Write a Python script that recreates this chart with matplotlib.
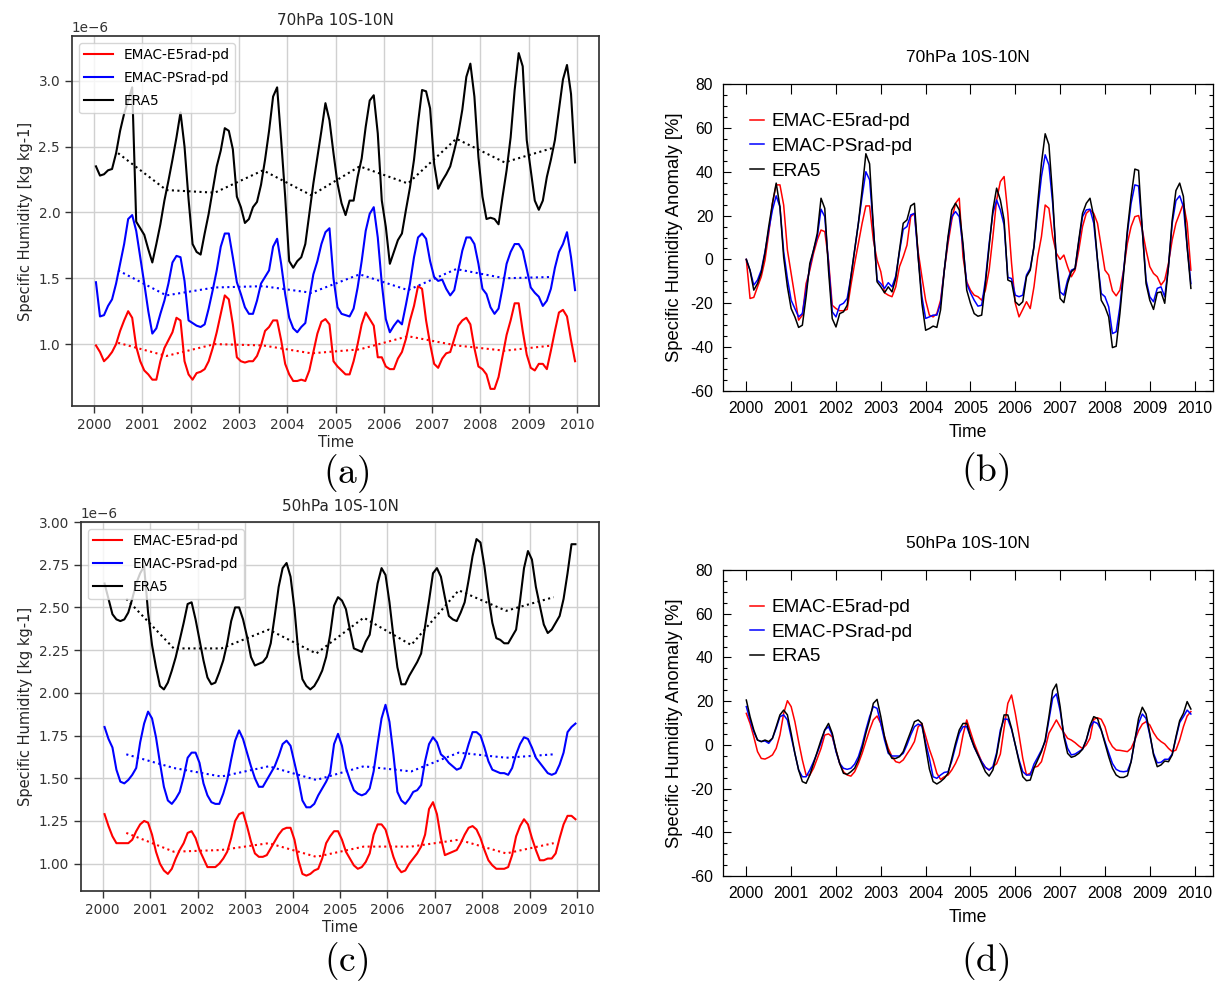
import matplotlib
matplotlib.use("Agg")
import matplotlib.pyplot as plt
import numpy as np
from matplotlib.ticker import MultipleLocator, FuncFormatter

plt.rcParams['mathtext.fontset'] = 'cm'

# ---------------- data ----------------
years = list(range(2000, 2011))
labels = ['EMAC-E5rad-pd', 'EMAC-PSrad-pd', 'ERA5']

# 70hPa specific humidity [1e-6 kg/kg], monthly 2000-2009
q70_e5 = [0.99, 0.94, 0.87, 0.90, 0.94, 1.00, 1.10, 1.18, 1.25, 1.20, 0.98, 0.87,
          0.80, 0.77, 0.73, 0.73, 0.87, 0.97, 1.03, 1.09, 1.20, 1.18, 0.87, 0.77,
          0.73, 0.78, 0.79, 0.81, 0.87, 0.97, 1.09, 1.23, 1.37, 1.34, 1.15, 0.90,
          0.87, 0.86, 0.87, 0.87, 0.91, 0.99, 1.10, 1.13, 1.18, 1.18, 1.03, 0.85,
          0.77, 0.72, 0.72, 0.73, 0.72, 0.80, 0.94, 1.08, 1.17, 1.19, 1.15, 0.87,
          0.83, 0.80, 0.77, 0.77, 0.87, 1.00, 1.15, 1.24, 1.19, 1.14, 0.90, 0.90,
          0.83, 0.81, 0.81, 0.89, 0.94, 1.04, 1.18, 1.29, 1.44, 1.42, 1.18, 1.00,
          0.85, 0.82, 0.89, 0.93, 0.94, 1.04, 1.14, 1.18, 1.20, 1.15, 0.97, 0.83,
          0.81, 0.77, 0.66, 0.66, 0.75, 0.91, 1.07, 1.18, 1.31, 1.31, 1.10, 0.92,
          0.82, 0.80, 0.85, 0.85, 0.81, 0.95, 1.10, 1.24, 1.26, 1.21, 1.03, 0.87]
q70_ps = [1.47, 1.21, 1.22, 1.29, 1.34, 1.46, 1.61, 1.76, 1.95, 1.98, 1.86, 1.66,
          1.46, 1.25, 1.08, 1.12, 1.23, 1.33, 1.46, 1.62, 1.67, 1.66, 1.48, 1.18,
          1.16, 1.14, 1.13, 1.15, 1.27, 1.41, 1.56, 1.74, 1.84, 1.84, 1.66, 1.47,
          1.38, 1.28, 1.23, 1.23, 1.33, 1.46, 1.51, 1.56, 1.74, 1.80, 1.61, 1.38,
          1.20, 1.12, 1.09, 1.13, 1.16, 1.35, 1.53, 1.63, 1.76, 1.85, 1.88, 1.50,
          1.28, 1.23, 1.22, 1.21, 1.27, 1.43, 1.63, 1.86, 1.99, 2.04, 1.81, 1.46,
          1.19, 1.09, 1.14, 1.18, 1.15, 1.30, 1.46, 1.66, 1.81, 1.84, 1.80, 1.63,
          1.51, 1.48, 1.49, 1.42, 1.37, 1.41, 1.56, 1.71, 1.81, 1.81, 1.76, 1.61,
          1.42, 1.38, 1.28, 1.23, 1.27, 1.43, 1.61, 1.70, 1.76, 1.76, 1.71, 1.57,
          1.43, 1.39, 1.36, 1.29, 1.33, 1.42, 1.58, 1.70, 1.76, 1.85, 1.66, 1.41]
q70_era5 = [2.35, 2.28, 2.29, 2.32, 2.33, 2.45, 2.62, 2.75, 2.85, 2.95, 1.93, 1.88,
            1.83, 1.72, 1.62, 1.76, 1.91, 2.09, 2.24, 2.40, 2.57, 2.76, 2.50, 2.10,
            1.76, 1.70, 1.68, 1.84, 1.99, 2.17, 2.35, 2.47, 2.64, 2.62, 2.48, 2.12,
            2.04, 1.92, 1.95, 2.04, 2.08, 2.21, 2.40, 2.62, 2.88, 2.95, 2.55, 2.12,
            1.63, 1.58, 1.63, 1.66, 1.76, 1.99, 2.22, 2.42, 2.62, 2.83, 2.70, 2.45,
            2.22, 2.07, 1.98, 2.09, 2.09, 2.27, 2.41, 2.65, 2.85, 2.89, 2.60, 2.09,
            1.89, 1.61, 1.70, 1.79, 1.84, 2.02, 2.19, 2.40, 2.68, 2.93, 2.92, 2.79,
            2.37, 2.18, 2.24, 2.29, 2.35, 2.47, 2.60, 2.78, 3.03, 3.13, 2.88, 2.42,
            2.12, 1.95, 1.96, 1.95, 1.91, 2.12, 2.32, 2.57, 2.93, 3.21, 3.11, 2.55,
            2.32, 2.09, 2.02, 2.09, 2.27, 2.40, 2.55, 2.78, 3.01, 3.12, 2.90, 2.38]
# annual means (plotted mid-year)
q70_e5_yr = [1.01, 0.91, 1.00, 0.99, 0.93, 0.96, 1.06, 0.99, 0.95, 0.99]
q70_ps_yr = [1.56, 1.37, 1.43, 1.44, 1.39, 1.53, 1.41, 1.57, 1.50, 1.51]
q70_era5_yr = [2.45, 2.17, 2.15, 2.32, 2.13, 2.35, 2.22, 2.56, 2.38, 2.49]

# 50hPa specific humidity [1e-6 kg/kg]
q50_e5 = [1.29, 1.22, 1.16, 1.12, 1.12, 1.12, 1.12, 1.14, 1.19, 1.23, 1.25, 1.24,
          1.17, 1.07, 1.00, 0.96, 0.94, 0.97, 1.03, 1.08, 1.12, 1.18, 1.19, 1.15,
          1.08, 1.03, 0.98, 0.98, 0.98, 1.00, 1.03, 1.07, 1.15, 1.25, 1.29, 1.30,
          1.22, 1.13, 1.06, 1.04, 1.04, 1.05, 1.09, 1.13, 1.17, 1.20, 1.21, 1.21,
          1.14, 1.02, 0.94, 0.93, 0.94, 0.96, 0.97, 1.03, 1.12, 1.16, 1.19, 1.19,
          1.14, 1.07, 1.03, 0.99, 0.97, 0.98, 1.01, 1.06, 1.17, 1.23, 1.23, 1.20,
          1.12, 1.04, 0.98, 0.95, 0.96, 1.00, 1.03, 1.06, 1.10, 1.17, 1.32, 1.36,
          1.29, 1.15, 1.05, 1.06, 1.07, 1.08, 1.12, 1.17, 1.21, 1.22, 1.20, 1.15,
          1.08, 1.02, 0.99, 0.97, 0.97, 0.97, 0.98, 1.05, 1.16, 1.22, 1.26, 1.23,
          1.15, 1.08, 1.02, 1.02, 1.03, 1.03, 1.06, 1.15, 1.23, 1.28, 1.28, 1.26]
q50_ps = [1.80, 1.73, 1.68, 1.55, 1.48, 1.47, 1.49, 1.52, 1.56, 1.71, 1.82, 1.89,
          1.85, 1.74, 1.59, 1.45, 1.37, 1.35, 1.38, 1.42, 1.51, 1.62, 1.65, 1.65,
          1.59, 1.47, 1.40, 1.36, 1.35, 1.35, 1.41, 1.49, 1.61, 1.72, 1.78, 1.73,
          1.65, 1.57, 1.50, 1.45, 1.45, 1.49, 1.53, 1.57, 1.63, 1.70, 1.72, 1.69,
          1.59, 1.49, 1.37, 1.33, 1.33, 1.35, 1.40, 1.44, 1.48, 1.53, 1.70, 1.76,
          1.69, 1.56, 1.49, 1.43, 1.41, 1.40, 1.41, 1.44, 1.54, 1.70, 1.85, 1.93,
          1.83, 1.64, 1.42, 1.37, 1.35, 1.38, 1.42, 1.43, 1.46, 1.60, 1.70, 1.74,
          1.71, 1.64, 1.62, 1.59, 1.57, 1.55, 1.56, 1.62, 1.70, 1.77, 1.77, 1.75,
          1.68, 1.60, 1.55, 1.54, 1.53, 1.53, 1.52, 1.56, 1.64, 1.70, 1.74, 1.73,
          1.68, 1.62, 1.59, 1.56, 1.53, 1.52, 1.53, 1.58, 1.65, 1.77, 1.80, 1.82]
q50_era5 = [2.64, 2.55, 2.46, 2.43, 2.42, 2.43, 2.47, 2.55, 2.64, 2.70, 2.74, 2.47,
            2.28, 2.15, 2.04, 2.02, 2.06, 2.13, 2.21, 2.31, 2.41, 2.52, 2.53, 2.43,
            2.31, 2.19, 2.09, 2.05, 2.06, 2.12, 2.19, 2.29, 2.42, 2.50, 2.50, 2.43,
            2.33, 2.21, 2.16, 2.17, 2.18, 2.21, 2.29, 2.45, 2.62, 2.73, 2.76, 2.68,
            2.49, 2.23, 2.08, 2.04, 2.02, 2.04, 2.08, 2.13, 2.21, 2.34, 2.51, 2.56,
            2.54, 2.49, 2.37, 2.26, 2.25, 2.24, 2.30, 2.34, 2.49, 2.64, 2.73, 2.69,
            2.53, 2.33, 2.15, 2.05, 2.05, 2.10, 2.14, 2.18, 2.23, 2.39, 2.54, 2.70,
            2.73, 2.68, 2.56, 2.45, 2.43, 2.42, 2.47, 2.53, 2.66, 2.80, 2.90, 2.88,
            2.74, 2.56, 2.41, 2.32, 2.31, 2.29, 2.29, 2.33, 2.37, 2.54, 2.73, 2.83,
            2.78, 2.62, 2.51, 2.40, 2.35, 2.37, 2.41, 2.45, 2.55, 2.70, 2.87, 2.87]
q50_e5_yr = [1.18, 1.07, 1.08, 1.12, 1.04, 1.10, 1.10, 1.14, 1.06, 1.12]
q50_ps_yr = [1.64, 1.56, 1.51, 1.57, 1.49, 1.57, 1.54, 1.65, 1.62, 1.64]
q50_era5_yr = [2.55, 2.26, 2.26, 2.37, 2.23, 2.44, 2.28, 2.60, 2.48, 2.56]

# anomalies [%]
a70_e5 = [0, -17.8, -17.3, -12.5, -7.9, -0.3, 11.9, 25.6, 34, 34, 24.8, 4.3,
          -6.4, -17, -27.7, -25.4, -11, -4.9, 2.8, 8.9, 13.4, 12.7, -0.3, -20.9,
          -22.4, -23.4, -23.4, -22.8, -11.7, -1.8, 7.3, 16.5, 24.4, 24.4, 8.9, -0.3,
          -5.6, -15.2, -16.3, -17, -12.5, -3.3, 1.2, 6.5, 19.5, 21, 3.5, -7.9,
          -18.6, -25.4, -26.2, -24.7, -18.6, -4.9, 7.3, 18, 25.6, 27.9, 1.2, -10.2,
          -14, -16.3, -17, -18.6, -14, -4.9, 10.4, 27.1, 35.5, 37.8, 21, -1.8,
          -20, -26.2, -22.8, -19.3, -22.4, -12.5, 1.2, 10.4, 24.8, 23.3, 10.4, 2.8,
          0, 2, -3.3, -7.9, -4.9, 4.3, 15, 21, 22.6, 21, 16.5, 5.8,
          -4.9, -7.1, -14.3, -16.6, -14, -4.9, 7.3, 15, 19.5, 20, 13.4, 4.3,
          -3.3, -6.4, -7.9, -11.7, -9.4, -1.8, 8.9, 16.5, 21, 25.6, 16.5, -4.9]
a70_ps = [0, -5, -11.7, -9.4, -4.9, 3.5, 13.4, 22.6, 29, 24, 3.5, -8.7,
          -18.6, -22.4, -26.2, -24.7, -14, -3.3, 4.3, 10.4, 22.9, 19.5, -1.8, -23.9,
          -26.2, -20.9, -20, -17.8, -7.9, 4.3, 16.5, 28.7, 40, 36.3, 15, -9.4,
          -11, -13.2, -10.6, -12.5, -7.6, 3.5, 13.7, 15, 20.3, 21, 1.2, -17,
          -26.9, -26.2, -25.4, -25.4, -20, -4.9, 9.6, 19.5, 21.8, 19.5, 5.8, -11,
          -15.2, -18.6, -21.3, -20.9, -9.4, 7.3, 21, 27.1, 22.6, 15.7, -8.2, -8.7,
          -16.3, -17, -16.3, -7.1, -4.1, 5.8, 22.6, 37.8, 47.7, 43.1, 25.6, 0.5,
          -14.8, -16.3, -9.4, -4.9, -4.1, 8.1, 19.5, 22.6, 22.9, 16.5, -0.3, -15.5,
          -17, -21.6, -33.8, -33, -21.6, -4.9, 11.9, 25.6, 34, 33.5, 13.4, -9.4,
          -17, -19.3, -13.2, -12.5, -17, -3.3, 16.5, 26.8, 29, 24.1, 5.8, -11]
a70_era5 = [0, -5, -14, -11, -6, 3, 15, 25.6, 34.8, 24, 1, -12.5,
            -22.4, -26.2, -31, -30, -17, -1.8, 4.3, 11.9, 27.9, 23.3, -4.9, -27,
            -30.8, -24.7, -23.9, -20.9, -7.9, 4.3, 16.5, 31.7, 48.2, 43.6, 15, -10.2,
            -12.5, -15.2, -12.5, -14.8, -8.7, 4.3, 16.5, 18, 24.4, 25.6, 1.2, -20,
            -32.3, -31.5, -30.4, -31, -23, -4.9, 10.4, 22.6, 25.6, 22.6, 7.3, -14,
            -20, -24.7, -25.9, -25.4, -11, 5.8, 22.6, 32.5, 27.1, 18, -9.4, -10.2,
            -19.3, -20.9, -19.3, -7.9, -4.9, 5.8, 25.6, 43.9, 57.3, 52.3, 28.7, -1,
            -17.8, -19.7, -11, -5.6, -4.1, 8.9, 21.0, 25.6, 27.9, 19.5, -0.3, -18.6,
            -21.6, -26.2, -40.2, -39.6, -24.7, -6.4, 13.4, 28.7, 41.2, 40.6, 13.4, -11,
            -18.6, -22.8, -15.2, -14.8, -20, -3.3, 18, 31.4, 34.8, 28.7, 5.8, -13.2]

a50_e5 = [14.4, 9.8, 3.7, -3.1, -6.2, -6.5, -5.7, -4.6, -1.6, 4.5, 14.4, 20.2,
          17.5, 10.6, 1.5, -6.9, -13.8, -13.8, -10.7, -6.2, -1.6, 4.5, 5.0, 3.7,
          -2.4, -8.5, -12.3, -13.8, -14.3, -12.3, -8.5, -3.9, 1.5, 6.8, 11.4, 13.2,
          9.8, 3.7, -1.6, -5.4, -7.7, -8.2, -6.9, -4.2, -1.6, 1.5, 8.3, 9.8,
          4, -2, -6.9, -13, -15.8, -14.6, -13.8, -11.5, -8.5, -4.6, 4.5, 11.4,
          6.0, 0.7, -3.6, -7.7, -10.3, -11.5, -10, -8.6, -4.2, 7.6, 19, 22.8,
          14.4, 4.5, -6.2, -13.8, -13, -10.3, -9.8, -7.7, -1.6, 5.3, 8.3, 11.4,
          8.3, 5.6, 3.0, 2.2, 1.0, -0.5, -1.7, 0, 3.0, 11.7, 12.4, 11.7,
          8.3, 2.2, -0.8, -2.4, -2.5, -2.8, -3.1, -1.6, 2.2, 6.5, 9.5, 10.6,
          9.1, 5.6, 3.0, 1.5, 0.4, -1.6, -3.1, -2.4, 2.2, 8.3, 13.2, 15.2]
a50_ps = [17.5, 11.4, 6.0, 2.2, 1.5, 1.8, 0.7, 3, 7.6, 12.9, 13.7, 11.4,
          3.7, -3.9, -11.5, -14.6, -14.6, -11.5, -7.7, -3.6, 1.0, 6.8, 8.3, 4.5,
          -3.1, -8.5, -10.7, -11.2, -10.7, -8.8, -5.4, 0, 6.8, 12.9, 17.5, 16.7,
          9.8, 2.2, -3.9, -5.1, -5.1, -5.1, -3.9, 0, 4.5, 8.3, 9.5, 8.6,
          1, -6.2, -14.6, -15.3, -13.8, -12.6, -12.3, -7.4, -0.8, 5.3, 8.3, 8.3,
          3.7, -1.1, -4.6, -7.7, -10.3, -11.5, -10, -3.6, 6.8, 11.8, 11.7, 7.1,
          0, -6.9, -12.3, -13.8, -13.8, -8.8, -5.7, -2.4, 1.5, 11.4, 21.3, 23.3,
          15.6, 4.5, -1.6, -4.6, -4.2, -3.1, -2.0, 2.2, 8.0, 10.6, 9.8, 6.8,
          1.5, -3.6, -8.5, -11.2, -12.1, -12.3, -12.0, -7.7, 2.2, 9.8, 14.1, 12.1,
          4.5, -3.9, -8.2, -8.0, -6.6, -6.6, -4.2, 3.0, 10.2, 12.9, 15.9, 14.1]
a50_era5 = [20.5, 12.9, 6.8, 2.2, 1.5, 2.2, 1.5, 3, 8.3, 13.7, 15.9, 13.7,
            5.3, -3.9, -11.5, -16.8, -17.6, -13.8, -8.5, -3.1, 2.2, 6.8, 9.8, 5.3,
            -2.4, -8.5, -13, -13.5, -12.3, -10.7, -6.9, -1.6, 5.3, 11.4, 19, 20.8,
            12.9, 3.7, -3.1, -6.2, -6.2, -5.4, -3.1, 1.5, 6.0, 10.6, 11.4, 9.8,
            -0.8, -11, -16.8, -17.9, -16.8, -15.3, -13, -6.2, 0.7, 6.8, 9.8, 9.8,
            3.7, -0.8, -4.6, -8.5, -12.3, -14.3, -11.5, -4.6, 5.3, 13.7, 13.7, 7.6,
            0, -7.7, -14.6, -16.4, -16.1, -10.7, -6.9, -3.1, 2.2, 12.9, 24.8, 27.8,
            17.5, 3.7, -3.9, -5.7, -5.1, -3.9, -2.0, 2.2, 8.8, 12.9, 12.1, 6.8,
            0.7, -5.4, -10.7, -13.8, -14.9, -14.9, -14.1, -7.7, 2.2, 12.1, 17.2, 14.1,
            5.3, -4.6, -10, -9.2, -7.4, -7.7, -4.6, 3.7, 11.1, 14.4, 19.8, 16.4]

colors = ['red', 'blue', 'black']

months = np.arange(len(q70_era5))
t_mid = 2000 + (months + 0.5) / 12.0   # python panels: mid-month
t_ncl = 2000 + months / 12.0           # NCL panels
t_yr = np.array(years[:-1]) + 0.5

W, H = 1232, 1000
fig = plt.figure(figsize=(W / 100, H / 100), dpi=100)


def box(l, t, r, b):
    return [l / W, 1 - b / H, (r - l) / W, (b - t) / H]


def python_panel(rect, title, monthly, annual, ylim, ystep):
    ax = fig.add_axes(rect)
    for k in range(3):
        ax.plot(t_mid, np.array(monthly[k]) * 1e-6, color=colors[k], lw=1.5,
                label=labels[k])
    for k in range(3):
        ax.plot(t_yr, np.array(annual[k]) * 1e-6, color=colors[k], lw=1.5, ls=':')
    ax.set_xticks(years)
    ax.set_ylim(ylim[0] * 1e-6, ylim[1] * 1e-6)
    ax.yaxis.set_major_locator(MultipleLocator(ystep * 1e-6))
    ax.grid(True, color='#d0d0d0', lw=1.0)
    ax.set_axisbelow(True)
    for s in ax.spines.values():
        s.set_color('#333333')
        s.set_linewidth(1.25)
    ax.tick_params(labelsize=9.8, colors='#333333', length=5, width=1.0)
    ax.yaxis.get_offset_text().set_fontsize(9.8)
    ax.yaxis.get_offset_text().set_color('#333333')
    ax.set_title(title, fontsize=11, color='#262626', pad=8)
    ax.set_xlabel('Time', fontsize=10.5, color='#262626', labelpad=2)
    ax.set_ylabel('Specific Humidity [kg kg-1]', fontsize=10.5, color='#262626')
    ax.legend(loc='upper left', fontsize=9.8, handlelength=2.1,
              labelspacing=0.65)
    return ax


def ncl_panel(rect, title, series):
    ax = fig.add_axes(rect)
    for k in range(3):
        ax.plot(t_ncl, series[k], color=colors[k], lw=1.1, label=labels[k])
    ax.set_xlim(1999.48, 2010.41)
    ax.set_ylim(-60, 80)
    ax.set_xticks(years)
    ax.yaxis.set_major_locator(MultipleLocator(20))
    ax.yaxis.set_minor_locator(MultipleLocator(5))
    ax.yaxis.set_major_formatter(FuncFormatter(lambda v, p: '%d' % v))
    for s in ax.spines.values():
        s.set_linewidth(0.9)
    ax.tick_params(which='both', direction='in', top=True, right=True,
                   labelsize=11.3, width=0.8)
    ax.tick_params(axis='x', which='major', length=7.5, pad=7)
    ax.tick_params(axis='y', which='major', length=6, pad=7)
    ax.tick_params(axis='y', which='minor', length=3)
    for lab in ax.get_xticklabels() + ax.get_yticklabels():
        lab.set_family('Liberation Sans')
    ax.set_title(title, fontsize=12.5, family='Liberation Sans', pad=16)
    ax.set_xlabel('Time', fontsize=12.7, family='Liberation Sans', labelpad=6)
    ax.set_ylabel('Specific Humidity Anomaly [%]', fontsize=13.3,
                  family='Liberation Sans', labelpad=5)
    ax.legend(loc='upper left', bbox_to_anchor=(0.055, 0.905), frameon=False,
              borderaxespad=0, borderpad=0, handlelength=0.72,
              handletextpad=0.42, labelspacing=0.38,
              prop={'family': 'Liberation Sans', 'size': 13.7})
    return ax


python_panel(box(72, 36, 599, 406), '70hPa 10S-10N',
             [q70_e5, q70_ps, q70_era5], [q70_e5_yr, q70_ps_yr, q70_era5_yr],
             (0.53, 3.34), 0.5)
python_panel(box(81, 522, 599, 891), '50hPa 10S-10N',
             [q50_e5, q50_ps, q50_era5], [q50_e5_yr, q50_ps_yr, q50_era5_yr],
             (0.84, 3.0), 0.25)
ncl_panel(box(723, 84, 1213, 391), '70hPa 10S-10N', [a70_e5, a70_ps, a70_era5])
ncl_panel(box(723, 570, 1213, 876), '50hPa 10S-10N', [a50_e5, a50_ps, a50_era5])

# panel letters
for txt, x, y in [('(a)', 346, 474), ('(b)', 985, 472),
                  ('(c)', 346, 962), ('(d)', 985, 962)]:
    fig.text(x / W, 1 - y / H, r'$\mathrm{%s}$' % txt, fontsize=27,
             ha='center', va='center')

fig.savefig('out.png', dpi=100)
